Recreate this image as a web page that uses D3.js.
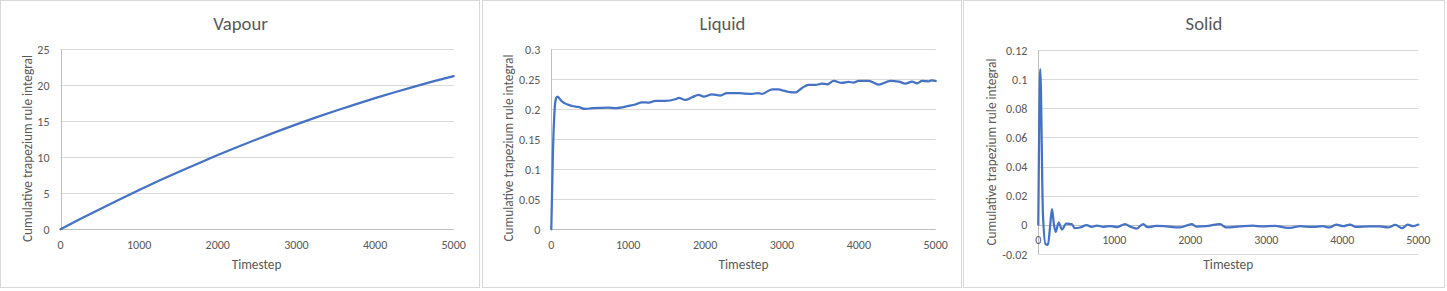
<!DOCTYPE html>
<html>
<head>
<meta charset="utf-8">
<script src="https://cdn.jsdelivr.net/npm/d3@7"></script>
<style>
  html, body { margin: 0; padding: 0; background: #fff; }
  svg { display: block; }
  text { font-family: Calibri, Carlito, Lato, sans-serif; fill: #595959; }
</style>
</head>
<body>
<svg id="chart" width="1447" height="291"></svg>
<script>
// Timestep ticks shared by all three charts
const xTicks = [0, 1000, 2000, 3000, 4000, 5000];

// Vapour
const vapourSteps = [0, 250, 500, 750, 1000, 1250, 1500, 1750, 2000, 2250, 2500, 2750, 3000, 3250, 3500, 3750, 4000, 4250, 4500, 4750, 5000];
const vapourValues = [0, 1.42, 2.8, 4.15, 5.46, 6.73, 7.96, 9.15, 10.31, 11.43, 12.51, 13.56, 14.57, 15.54, 16.47, 17.36, 18.22, 19.04, 19.82, 20.57, 21.28];
const vapourTicks = [0, 5, 10, 15, 20, 25];

// Liquid
const liquidSteps = [0, 22, 43, 61, 78, 139, 269, 350, 442, 530, 746, 830, 1006, 1093, 1180, 1270, 1353, 1480, 1613, 1660, 1743,
  1830, 1917, 1982, 2090, 2199, 2285, 2440, 2524, 2610, 2690, 2740, 2871, 2960, 3001, 3131, 3180, 3261, 3348, 3440, 3521,
  3590, 3673, 3781, 3868, 3930, 3998, 4130, 4259, 4410, 4520, 4605, 4692, 4757, 4822, 4910, 4950, 5000];
const liquidValues = [0, 0.132, 0.199, 0.218, 0.221, 0.213, 0.2055, 0.204, 0.2006, 0.202, 0.203, 0.202, 0.2056, 0.208, 0.2117,
  0.2111, 0.214, 0.214, 0.2167, 0.219, 0.2156, 0.22, 0.224, 0.221, 0.225, 0.223, 0.227, 0.227, 0.2261, 0.2256, 0.227, 0.2256,
  0.2333, 0.2333, 0.2317, 0.2283, 0.2283, 0.2356, 0.2406, 0.2406, 0.2428, 0.2417, 0.2472, 0.2439, 0.2456, 0.2445, 0.2472,
  0.2472, 0.2411, 0.2472, 0.2461, 0.2428, 0.2461, 0.2433, 0.2472, 0.2467, 0.2483, 0.2472];
const liquidTicks = [0, 0.05, 0.1, 0.15, 0.2, 0.25, 0.3];

// Solid
const solidSteps = [0, 26, 61, 96, 127, 155, 180, 205, 228, 268, 311, 368, 439, 478, 549, 637, 700, 770, 860, 950, 1040,
  1141, 1210, 1295, 1378, 1440, 1550, 1660, 1772, 1865, 2018, 2080, 2210, 2391, 2474, 2650, 2820, 2950, 3110, 3285, 3370,
  3440, 3610, 3740, 3830, 3921, 4010, 4100, 4180, 4360, 4490, 4600, 4700, 4789, 4860, 4930, 5000];
const solidValues = [0, 0.1068, 0.0073, -0.0133, -0.0137, -0.001, 0.0108, 0.0005, -0.0048, 0.0016, -0.0032, 0.0009, 0.0005,
  -0.0022, -0.0018, -0.0002, -0.0014, -0.0005, -0.0014, -0.0008, -0.0015, 0.0005, -0.0012, -0.0025, 0.0005, -0.0016, -0.0007,
  -0.0009, -0.0016, -0.0018, 0.0005, -0.0012, -0.0009, 0.0005, -0.0018, -0.0011, -0.0005, -0.0011, -0.0007, -0.0021, -0.0016,
  -0.0009, -0.0014, -0.0009, -0.0018, 0.0002, -0.0009, 0.0002, -0.0014, -0.0011, -0.0011, -0.0018, 0.0000, -0.0023, 0.0002,
  -0.0009, 0.0002];
const solidTicks = [-0.02, 0, 0.02, 0.04, 0.06, 0.08, 0.1, 0.12];

const svg = d3.select('#chart');

function drawPanel(cfg) {
    const g = svg.append('g').attr('transform', `translate(${cfg.left},0)`);

    // Chart frame
    g.append('rect')
        .attr('x', 0.5).attr('y', 0.5)
        .attr('width', cfg.width).attr('height', 287)
        .attr('fill', '#fff').attr('stroke', '#d9d9d9');

    const x = d3.scaleLinear().domain([0, 5000]).range([cfg.plotL, cfg.plotR]);
    const y = d3.scaleLinear().domain(cfg.yDomain).range([cfg.plotB, cfg.plotT]);

    // Gridlines
    g.append('g')
        .selectAll('line')
        .data(cfg.yTicks.filter(t => t !== 0))
        .enter()
        .append('line')
        .attr('x1', cfg.plotL).attr('x2', cfg.plotR)
        .attr('y1', d => Math.round(y(d)) + 0.5).attr('y2', d => Math.round(y(d)) + 0.5)
        .attr('stroke', '#d9d9d9').attr('stroke-width', 1);

    // Axis lines
    const y0 = Math.round(y(0)) + 0.5;
    g.append('line')
        .attr('x1', cfg.plotL).attr('x2', cfg.plotR).attr('y1', y0).attr('y2', y0)
        .attr('stroke', '#bfbfbf');
    g.append('line')
        .attr('x1', Math.round(cfg.plotL) + 0.5).attr('x2', Math.round(cfg.plotL) + 0.5)
        .attr('y1', cfg.plotT).attr('y2', cfg.plotB)
        .attr('stroke', '#bfbfbf');

    // Y tick labels
    g.append('g')
        .selectAll('text')
        .data(cfg.yTicks)
        .enter()
        .append('text')
        .attr('x', cfg.plotL - 11)
        .attr('y', d => y(d) + 4.5)
        .attr('text-anchor', 'end')
        .style('font-size', '12px')
        .text(d => String(d));

    // X tick labels, next to the zero line
    g.append('g')
        .selectAll('text')
        .data(xTicks)
        .enter()
        .append('text')
        .attr('x', d => x(d))
        .attr('y', y(0) + 19.5)
        .attr('text-anchor', 'middle')
        .style('font-size', '12px')
        .text(d => String(d));

    // Series
    const data = cfg.steps.map((s, i) => ({ s: s, v: cfg.values[i] }));
    g.append('path')
        .datum(data)
        .attr('fill', 'none')
        .attr('stroke', '#4472c4')
        .attr('stroke-width', 2.25)
        .attr('stroke-linejoin', 'round')
        .attr('stroke-linecap', 'round')
        .attr('d', d3.line().x(d => x(d.s)).y(d => y(d.v)).curve(d3.curveMonotoneX));

    // Titles
    g.append('text')
        .attr('x', cfg.titleX).attr('y', 29.5)
        .attr('text-anchor', 'middle')
        .style('font-size', '18.67px')
        .text(cfg.title);

    g.append('text')
        .attr('x', (cfg.plotL + cfg.plotR) / 2 + cfg.xTitleShift).attr('y', 269)
        .attr('text-anchor', 'middle')
        .style('font-size', '13.33px')
        .text('Timestep');

    g.append('text')
        .attr('transform', `translate(${cfg.yTitleX},${cfg.yTitleY}) rotate(-90)`)
        .attr('text-anchor', 'middle')
        .attr('textLength', 187)
        .attr('lengthAdjust', 'spacingAndGlyphs')
        .style('font-size', '13.33px')
        .text('Cumulative trapezium rule integral');
}

drawPanel({
    left: 0, width: 479, title: 'Vapour', titleX: 240.5,
    plotL: 60.5, plotR: 453.7, plotT: 49.3, plotB: 229.3,
    yDomain: [0, 25], yTicks: vapourTicks,
    steps: vapourSteps, values: vapourValues,
    yTitleX: 31.5, yTitleY: 148.5, xTitleShift: -0.5
});

drawPanel({
    left: 482, width: 479, title: 'Liquid', titleX: 240.5,
    plotL: 69.3, plotR: 453.7, plotT: 49.3, plotB: 229.3,
    yDomain: [0, 0.3], yTicks: liquidTicks,
    steps: liquidSteps, values: liquidValues,
    yTitleX: 31, yTitleY: 148, xTitleShift: 0
});

drawPanel({
    left: 963, width: 481, title: 'Solid', titleX: 241,
    plotL: 75.3, plotR: 455.3, plotT: 50, plotB: 254,
    yDomain: [-0.02, 0.12], yTicks: solidTicks,
    steps: solidSteps, values: solidValues,
    yTitleX: 33, yTitleY: 152, xTitleShift: 0
});
</script>
</body>
</html>
